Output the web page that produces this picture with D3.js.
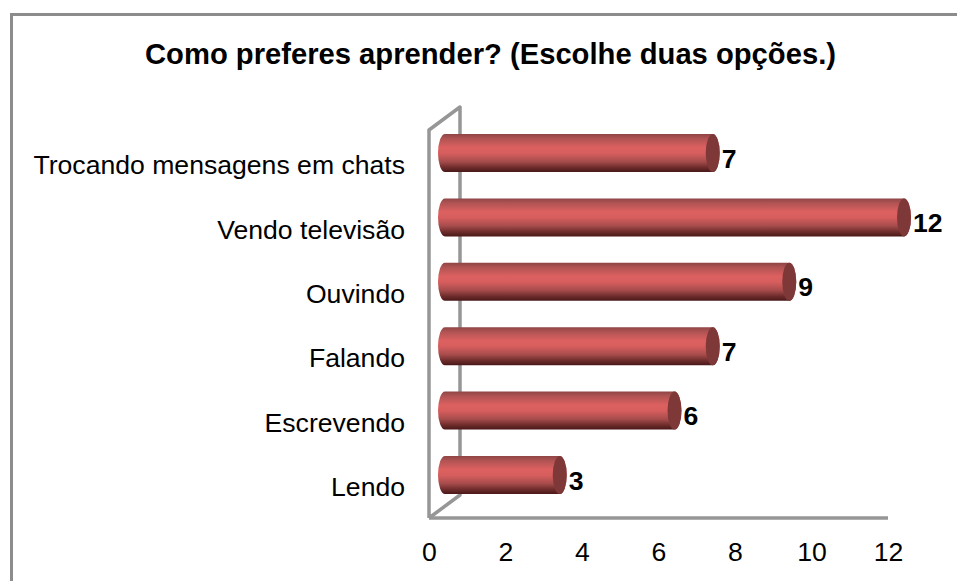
<!DOCTYPE html>
<html><head><meta charset="utf-8">
<script src="https://cdn.jsdelivr.net/npm/d3@7"></script>
<style>html,body{margin:0;padding:0;background:#fff}svg{display:block}text{font-family:"Liberation Sans",Arial,sans-serif;fill:#000}</style>
</head><body><svg id="c" width="957" height="581"></svg>
<script>
const titleText = "Como preferes aprender? (Escolhe duas opções.)";
const categories = ["Trocando mensagens em chats","Vendo televisão","Ouvindo","Falando","Escrevendo","Lendo"];
const values = [7,12,9,7,6,3];
const ticks = [0,2,4,6,8,10,12];

const svg = d3.select("#c");
const defs = svg.append("defs");
const grad = defs.append("linearGradient").attr("id","cyl").attr("x1",0).attr("y1",0).attr("x2",0).attr("y2",1);
[[0,"#8f4545"],[0.12,"#b05353"],[0.35,"#dc6060"],[0.5,"#d85e5e"],[0.72,"#a84c4c"],[0.88,"#6e2c2c"],[1,"#4a1818"]]
  .forEach(([o,c])=>grad.append("stop").attr("offset",o).attr("stop-color",c));

// frame
const frame = "#8c8c8c";
svg.append("path").attr("d","M11.5,581V14.5H957").attr("fill","none").attr("stroke",frame).attr("stroke-width",3);

const x = d3.scaleLinear().domain([0,12]).range([429,888]);
const depth = 31, rise = 23;
const plotTop = 130, plotBottom = 518;
const yLabel = d3.scaleBand().domain(categories).range([133,519]);
const yBar = d3.scaleBand().domain(categories).range([120.8,507.2]);

// walls
const wall = svg.append("g").attr("fill","none").attr("stroke","#969696").attr("stroke-width",3.5).attr("stroke-linejoin","round");
wall.append("path").attr("d",`M${x(0)},${plotBottom}V${plotTop}L${x(0)+depth},${plotTop-rise}V${plotBottom-rise}L${x(0)},${plotBottom}`);
wall.append("path").attr("d",`M${x(0)},${plotBottom}H${x(12)}`);

// bars
const barH = 38, rx = 7, midDepth = 16;
const yMid = c => yBar(c)+yBar.bandwidth()/2;
const bars = svg.append("g").selectAll("g").data(categories.map((c,i)=>({c,v:values[i]}))).join("g");
bars.append("path")
  .attr("d",d=>{
    const y0 = yMid(d.c)-barH/2, xa = x(0)+midDepth, xb = x(d.v)+midDepth;
    return `M${xa},${y0}H${xb}A${rx},${barH/2} 0 0 1 ${xb},${y0+barH}H${xa}A${rx},${barH/2} 0 0 1 ${xa},${y0}Z`;
  }).attr("fill","url(#cyl)");
bars.append("ellipse")
  .attr("cx",d=>x(d.v)+midDepth).attr("cy",d=>yMid(d.c))
  .attr("rx",rx).attr("ry",barH/2).attr("fill","#7f3838");
bars.append("text")
  .attr("x",d=>x(d.v)+midDepth+9).attr("y",d=>yMid(d.c)+14.5)
  .attr("font-size",26.6).attr("font-weight","bold").text(d=>d.v);

// axes
const axisY = d3.axisLeft(yLabel).tickSize(0).tickPadding(0);
const gy = svg.append("g").attr("transform","translate(405,0)").call(axisY);
gy.select(".domain").remove();
gy.selectAll("text").attr("font-size",26.6).attr("dy","0.35em").attr("dx",0);
const axisX = d3.axisBottom(x).tickValues(ticks).tickSize(0).tickPadding(0);
const gx = svg.append("g").attr("transform","translate(0,542)").call(axisX);
gx.select(".domain").remove();
gx.selectAll("text").attr("font-size",26.6).attr("dy","0.7em");
gy.attr("font-family",null); gx.attr("font-family",null);

svg.append("text").attr("x",490.5).attr("y",64).attr("text-anchor","middle")
  .attr("font-size",29.2).attr("font-weight","bold").text(titleText);
</script></body></html>
